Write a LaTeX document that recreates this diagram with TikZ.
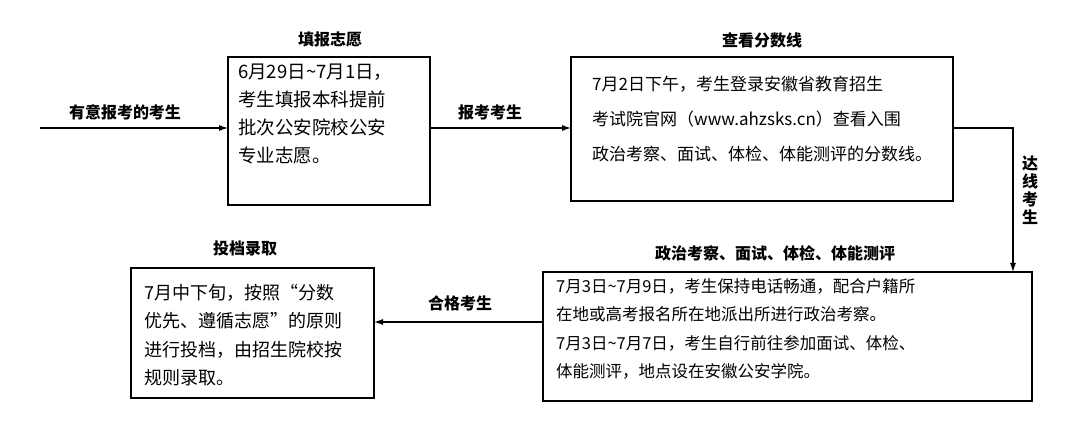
\documentclass[tikz,border=0pt]{standalone}
\usepackage{fontspec}
\setmainfont{Noto Sans CJK SC}
\XeTeXlinebreaklocale "zh"
\XeTeXlinebreakskip=0pt plus 2pt
\usetikzlibrary{arrows.meta}
\newcommand{\tl}{\textasciitilde}
\begin{document}
\begin{tikzpicture}[x=1pt,y=-1pt,
  box/.style={draw,line width=1.2pt},
  txt/.style={anchor=north west,align=left,inner sep=0pt},
  ttl/.style={font=\fontsize{16}{18}\selectfont\bfseries},
  arr/.style={-{Latex[length=9pt,width=6pt]},line width=1.1pt}]
\useasboundingbox (0,0) rectangle (1080,422);
\draw[box] (228,57) rectangle (430,205);
\draw[box] (571,57) rectangle (953,201);
\draw[box] (543,272) rectangle (1032,401);
\draw[box] (131,268) rectangle (374,398);
\node[ttl] (t1) at (330,40) {填报志愿};
\node[ttl] (t2) at (762,40) {查看分数线};
\node[ttl] (t3) at (775,253) {政治考察、面试、体检、体能测评};
\node[ttl] (t4) at (245,248) {投档录取};
\node[txt,font=\fontsize{18.5}{28}\selectfont] (b1) at (238,64) {6月29日\tl 7月1日，\\考生填报本科提前\\批次公安院校公安\\专业志愿。};
\node[txt,font=\fontsize{17}{35}\selectfont] (b2) at (592,76) {7月2日下午，考生登录安徽省教育招生\\考试院官网（www.ahzsks.cn）查看入围\\政治考察、面试、体检、体能测评的分数线。};
\node[txt,font=\fontsize{16.5}{28.5}\selectfont] (b3) at (556,278) {7月3日\tl 7月9日，考生保持电话畅通，配合户籍所\\在地或高考报名所在地派出所进行政治考察。\\7月3日\tl 7月7日，考生自行前往参加面试、体检、\\体能测评，地点设在安徽公安学院。};
\node[txt,font=\fontsize{18}{28.5}\selectfont] (b4) at (144,284) {7月中下旬，按照“分数\\优先、遵循志愿”的原则\\进行投档，由招生院校按\\规则录取。};
\node[ttl] (l0) at (125,112) {有意报考的考生};
\node[ttl] (l1) at (490,112) {报考考生};
\node[ttl] (l3) at (460,303) {合格考生};
\node[ttl,align=center,text width=16pt] (l2) at (1030,190) {达\\线\\考\\生};
\coordinate (s0) at (40,128);
\draw[arr] (s0) -- (228,128);
\draw[arr] (430,128) -- (571,128);
\draw[arr] (953,128) -- (1013,128) -- (1013,272);
\draw[arr] (543,322) -- (374,322);
\end{tikzpicture}
\end{document}
